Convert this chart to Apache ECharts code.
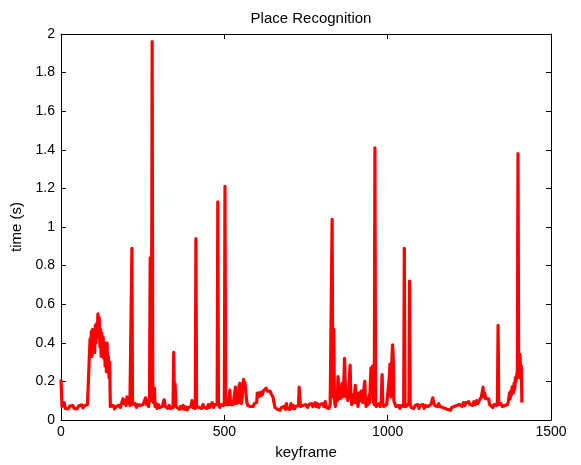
<!DOCTYPE html>
<html>
<head>
<meta charset="utf-8">
<script src="https://cdn.jsdelivr.net/npm/echarts@6/dist/echarts.min.js"></script>
<style>html,body{margin:0;padding:0;background:#fff}#c{width:581px;height:465px}</style>
</head>
<body>
<div id="c"></div>
<script>
const chartTitle = "Place Recognition";
const xTicks = [0, 500, 1000, 1500];
const yTicks = [0, 0.2, 0.4, 0.6, 0.8, 1, 1.2, 1.4, 1.6, 1.8, 2];

const keyframes = [
  0, 3, 7, 10, 13, 18, 22, 27, 31, 36,
  40, 45, 49, 54, 58, 63, 67, 72, 76, 81,
  84, 87, 89, 91, 93, 95, 97, 99, 101, 103,
  105, 107, 109, 111, 113, 115, 117, 119, 121, 123,
  125, 127, 129, 131, 133, 135, 137, 139, 141, 143,
  145, 147, 149, 151, 155, 160, 164, 169, 173, 178,
  182, 186, 190, 193, 196, 199, 202, 205, 208, 211,
  214, 217, 219, 223, 227, 231, 235, 239, 243, 247,
  251, 255, 259, 262, 265, 268, 271, 273, 275, 277,
  279, 281, 283, 286, 288, 291, 294, 298, 302, 306,
  310, 313, 316, 319, 323, 327, 331, 335, 339, 343,
  345, 347, 349, 352, 354, 358, 362, 366, 370, 374,
  378, 382, 386, 390, 394, 398, 401, 404, 408, 411,
  413, 415, 419, 423, 427, 431, 435, 439, 443, 447,
  451, 455, 459, 463, 467, 471, 475, 478, 480, 482,
  486, 490, 494, 498, 500, 502, 504, 508, 512, 515,
  517, 519, 523, 527, 531, 534, 536, 540, 543, 545,
  547, 549, 552, 555, 557, 559, 561, 563, 565, 567,
  569, 572, 576, 580, 584, 588, 592, 596, 599, 601,
  604, 607, 610, 613, 616, 619, 622, 625, 628, 631,
  634, 637, 640, 643, 646, 649, 652, 655, 659, 663,
  667, 671, 675, 679, 683, 687, 690, 693, 697, 701,
  704, 707, 711, 715, 719, 723, 727, 729, 731, 733,
  737, 741, 745, 749, 752, 755, 759, 763, 767, 771,
  775, 778, 781, 785, 789, 793, 797, 801, 805, 809,
  812, 816, 820, 824, 827, 830, 832, 835, 837, 840,
  843, 846, 848, 851, 853, 855, 858, 860, 862, 865,
  868, 870, 872, 875, 878, 881, 883, 885, 887, 890,
  893, 896, 899, 901, 903, 906, 909, 911, 914, 917,
  919, 921, 924, 927, 930, 932, 934, 937, 940, 943,
  945, 947, 949, 951, 954, 956, 959, 961, 963, 965,
  968, 971, 974, 977, 980, 983, 985, 988, 991, 994,
  997, 1000, 1003, 1005, 1007, 1010, 1012, 1015, 1017, 1019,
  1022, 1025, 1028, 1031, 1034, 1037, 1040, 1043, 1046, 1049,
  1051, 1053, 1056, 1059, 1062, 1065, 1067, 1069, 1072, 1076,
  1080, 1084, 1088, 1092, 1096, 1100, 1104, 1108, 1112, 1116,
  1120, 1124, 1128, 1132, 1135, 1138, 1141, 1144, 1148, 1152,
  1156, 1160, 1164, 1168, 1172, 1176, 1180, 1184, 1188, 1192,
  1196, 1200, 1204, 1208, 1212, 1216, 1220, 1224, 1228, 1232,
  1236, 1240, 1244, 1248, 1252, 1256, 1260, 1264, 1268, 1272,
  1276, 1280, 1284, 1287, 1290, 1292, 1294, 1297, 1300, 1303,
  1306, 1309, 1312, 1315, 1318, 1322, 1326, 1330, 1334, 1336,
  1338, 1340, 1343, 1347, 1351, 1355, 1359, 1363, 1367, 1370,
  1373, 1375, 1377, 1379, 1381, 1383, 1385, 1387, 1389, 1391,
  1393, 1395, 1397, 1399, 1401, 1403, 1405, 1407, 1409, 1411
];

const timeSec = [
  0.21, 0.07, 0.065, 0.09, 0.06, 0.07, 0.058, 0.072, 0.062, 0.075,
  0.06, 0.07, 0.058, 0.072, 0.062, 0.078, 0.063, 0.074, 0.065, 0.08,
  0.07, 0.09, 0.42, 0.36, 0.46, 0.33, 0.47, 0.38, 0.45, 0.35,
  0.49, 0.40, 0.50, 0.43, 0.55, 0.46, 0.53, 0.38, 0.47, 0.33,
  0.45, 0.36, 0.43, 0.32, 0.40, 0.28, 0.37, 0.25, 0.40, 0.27,
  0.33, 0.22, 0.30, 0.07, 0.06, 0.075, 0.058, 0.07, 0.062, 0.076,
  0.065, 0.09, 0.11, 0.085, 0.10, 0.075, 0.12, 0.09, 0.11, 0.075,
  0.08, 0.89, 0.08, 0.07, 0.085, 0.065, 0.08, 0.07, 0.075, 0.065,
  0.08, 0.09, 0.115, 0.08, 0.10, 0.07, 0.12, 0.84, 0.10, 0.15,
  1.96, 0.12, 0.09, 0.165, 0.07, 0.085, 0.06, 0.08, 0.065, 0.075,
  0.07, 0.09, 0.105, 0.07, 0.08, 0.06, 0.075, 0.06, 0.07, 0.065,
  0.35, 0.12, 0.19, 0.07, 0.06, 0.065, 0.055, 0.07, 0.058, 0.075,
  0.055, 0.068, 0.052, 0.065, 0.055, 0.07, 0.10, 0.065, 0.075, 0.06,
  0.94, 0.07, 0.08, 0.065, 0.075, 0.06, 0.08, 0.065, 0.075, 0.06,
  0.08, 0.065, 0.075, 0.09, 0.065, 0.08, 0.07, 0.08, 1.13, 0.08,
  0.065, 0.08, 0.07, 0.075, 0.09, 1.21, 0.08, 0.07, 0.08, 0.075,
  0.155, 0.08, 0.07, 0.08, 0.075, 0.17, 0.085, 0.08, 0.09, 0.175,
  0.19, 0.10, 0.085, 0.12, 0.19, 0.21, 0.17, 0.195, 0.16, 0.15,
  0.09, 0.075, 0.085, 0.07, 0.08, 0.07, 0.085, 0.075, 0.09, 0.14,
  0.12, 0.14, 0.125, 0.145, 0.13, 0.15, 0.14, 0.16, 0.165, 0.15,
  0.155, 0.14, 0.15, 0.135, 0.14, 0.12, 0.09, 0.065, 0.07, 0.055,
  0.065, 0.05, 0.065, 0.055, 0.07, 0.055, 0.085, 0.06, 0.07, 0.055,
  0.085, 0.06, 0.075, 0.058, 0.07, 0.06, 0.075, 0.17, 0.16, 0.07,
  0.06, 0.075, 0.065, 0.08, 0.09, 0.065, 0.08, 0.07, 0.085, 0.07,
  0.08, 0.09, 0.07, 0.085, 0.065, 0.08, 0.07, 0.085, 0.07, 0.095,
  0.065, 0.075, 0.06, 0.08, 0.09, 1.04, 0.12, 0.47, 0.10, 0.07,
  0.14, 0.10, 0.225, 0.12, 0.17, 0.11, 0.15, 0.19, 0.12, 0.16,
  0.32, 0.20, 0.12, 0.15, 0.10, 0.16, 0.22, 0.285, 0.14, 0.08,
  0.13, 0.09, 0.14, 0.18, 0.09, 0.14, 0.07, 0.08, 0.14, 0.10,
  0.15, 0.15, 0.09, 0.16, 0.20, 0.10, 0.07, 0.11, 0.08, 0.13,
  0.09, 0.20, 0.27, 0.15, 0.28, 0.10, 0.08, 1.41, 0.09, 0.07,
  0.08, 0.065, 0.085, 0.07, 0.09, 0.235, 0.09, 0.07, 0.08, 0.065,
  0.08, 0.07, 0.09, 0.22, 0.29, 0.12, 0.28, 0.39, 0.33, 0.10,
  0.095, 0.07, 0.08, 0.065, 0.075, 0.06, 0.075, 0.065, 0.08, 0.07,
  0.89, 0.09, 0.07, 0.08, 0.07, 0.085, 0.72, 0.08, 0.065, 0.075,
  0.06, 0.075, 0.065, 0.08, 0.06, 0.075, 0.065, 0.08, 0.06, 0.075,
  0.065, 0.07, 0.06, 0.08, 0.095, 0.115, 0.09, 0.075, 0.085, 0.07,
  0.085, 0.07, 0.08, 0.065, 0.075, 0.06, 0.07, 0.055, 0.065, 0.05,
  0.065, 0.055, 0.07, 0.06, 0.075, 0.065, 0.08, 0.085, 0.07, 0.09,
  0.075, 0.09, 0.08, 0.095, 0.08, 0.09, 0.075, 0.095, 0.08, 0.10,
  0.085, 0.10, 0.09, 0.12, 0.13, 0.17, 0.12, 0.14, 0.11, 0.12,
  0.10, 0.11, 0.08, 0.07, 0.075, 0.065, 0.08, 0.07, 0.075, 0.09,
  0.49, 0.08, 0.075, 0.085, 0.07, 0.08, 0.075, 0.085, 0.08, 0.10,
  0.14, 0.11, 0.15, 0.13, 0.17, 0.165, 0.14, 0.19, 0.16, 0.22,
  0.20, 0.23, 0.25, 1.38, 0.30, 0.22, 0.34, 0.25, 0.28, 0.09
];

const seriesData = keyframes.map((k, i) => [k, timeSec[i]]);

const fontFam = '"Liberation Sans", Arial, Helvetica, sans-serif';
const chart = echarts.init(document.getElementById('c'), null, {renderer: 'canvas'});

const baseAxis = {
  axisLine: {show: true, onZero: false, lineStyle: {color: '#000', width: 1}},
  axisTick: {show: true, inside: true, length: 5, lineStyle: {color: '#000'}},
  splitLine: {show: false}
};
const plainLabel = v => String(v);

chart.setOption({
  animation: false,
  backgroundColor: '#fff',
  title: {
    text: chartTitle,
    left: 306, top: 6, textAlign: 'center',
    textStyle: {fontFamily: fontFam, fontSize: 15, fontWeight: 'normal', color: '#000'}
  },
  grid: {left: 61, right: 30, top: 34, bottom: 43, containLabel: false},
  xAxis: [
    Object.assign({}, baseAxis, {
      type: 'value', min: xTicks[0], max: xTicks[xTicks.length - 1], interval: xTicks[1] - xTicks[0],
      position: 'bottom',
      name: 'keyframe', nameLocation: 'middle', nameGap: 25,
      nameTextStyle: {fontFamily: fontFam, fontSize: 15, color: '#000'},
      axisLabel: {fontFamily: fontFam, fontSize: 14, color: '#000', margin: 5, formatter: plainLabel}
    }),
    Object.assign({}, baseAxis, {
      type: 'value', min: xTicks[0], max: xTicks[xTicks.length - 1], interval: xTicks[1] - xTicks[0],
      position: 'top', axisLabel: {show: false}
    })
  ],
  yAxis: [
    Object.assign({}, baseAxis, {
      type: 'value', min: yTicks[0], max: yTicks[yTicks.length - 1], interval: 0.2,
      position: 'left',
      name: 'time (s)', nameLocation: 'middle', nameGap: 33, nameRotate: 90,
      nameTextStyle: {fontFamily: fontFam, fontSize: 15, color: '#000'},
      axisLabel: {fontFamily: fontFam, fontSize: 14, color: '#000', margin: 6, formatter: plainLabel}
    }),
    Object.assign({}, baseAxis, {
      type: 'value', min: yTicks[0], max: yTicks[yTicks.length - 1], interval: 0.2,
      position: 'right', axisLabel: {show: false}
    })
  ],
  series: [{
    type: 'line',
    data: seriesData,
    xAxisIndex: 0, yAxisIndex: 0,
    showSymbol: false,
    symbol: 'none',
    lineStyle: {color: '#ff0000', width: 3.2, join: 'round'},
    itemStyle: {color: '#ff0000'}
  }]
});
</script>
</body>
</html>
